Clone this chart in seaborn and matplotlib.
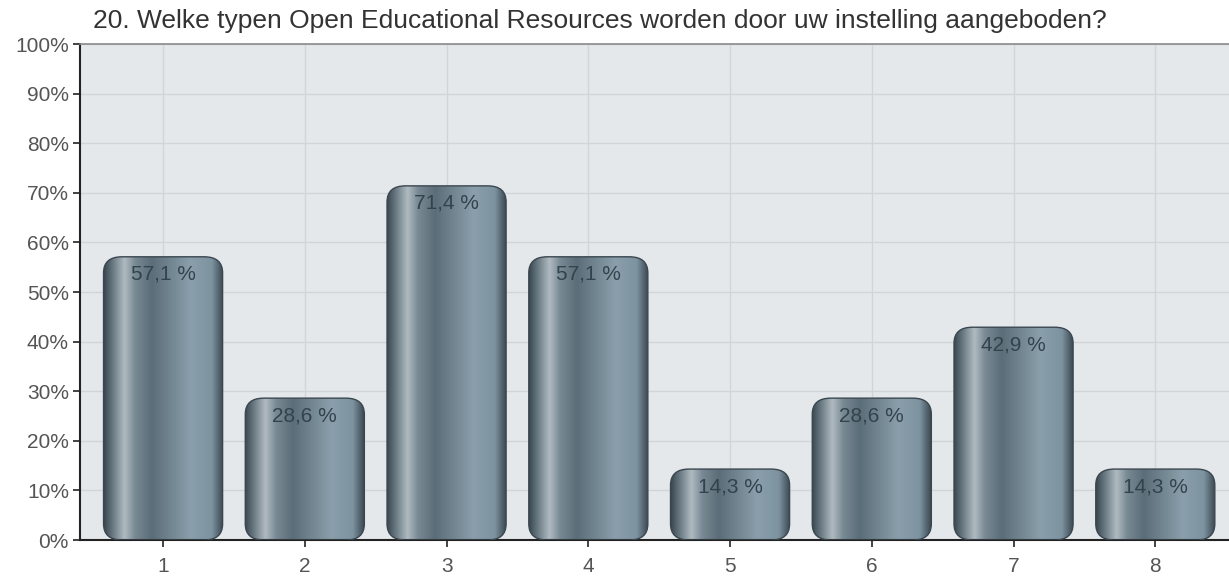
import numpy as np
import pandas as pd
import seaborn as sns
import matplotlib.pyplot as plt
from matplotlib.patches import FancyBboxPatch
from matplotlib.colors import LinearSegmentedColormap

# values
categories = ["1", "2", "3", "4", "5", "6", "7", "8"]
percentages = [57.1, 28.6, 71.4, 57.1, 14.3, 28.6, 42.9, 14.3]
labels = ["57,1 %", "28,6 %", "71,4 %", "57,1 %", "14,3 %", "28,6 %", "42,9 %", "14,3 %"]
title = "20. Welke typen Open Educational Resources worden door uw instelling aangeboden?"

df = pd.DataFrame({"cat": categories, "pct": percentages})

sns.set_theme(style="whitegrid")
plt.rcParams['font.family'] = ['Liberation Sans', 'DejaVu Sans']

fig = plt.figure(figsize=(12.29, 5.76), dpi=100)
ax = fig.add_axes([0.0651, 0.0625, 0.9349, 0.8611])
ax.set_facecolor("#e5e8eb")

sns.barplot(data=df, x="cat", y="pct", ax=ax, width=0.84, color="#6f8592", zorder=2)

# metallic look: horizontal gradient clipped to rounded boxes
metal = LinearSegmentedColormap.from_list("metal", [
    (0.0, "#3a4750"), (0.06, "#61717a"), (0.17, "#b0bbc1"), (0.26, "#788994"),
    (0.40, "#5b6d78"), (0.72, "#8a9fab"), (0.90, "#7d93a0"), (1.0, "#37444d")])
grad = np.linspace(0, 1, 256).reshape(1, -1)

for p, lab in zip(list(ax.patches), labels):
    x0, w, h = p.get_x(), p.get_width(), p.get_height()
    p.set_visible(False)
    box = FancyBboxPatch((x0, 0), w, h,
                         boxstyle="round,pad=0,rounding_size=0.13",
                         mutation_aspect=25, facecolor="none",
                         edgecolor="#3b4750", linewidth=1.0, zorder=3)
    ax.add_patch(box)
    im = ax.imshow(grad, cmap=metal, extent=(x0, x0 + w, 0, h),
                   aspect="auto", zorder=2.5, interpolation="bicubic")
    im.set_clip_path(box)
    ax.text(x0 + w / 2, h - 1.6, lab, ha="center", va="top",
            fontsize=15, color="#33434e", zorder=4)

ax.set_xlim(0.414 - 1, 8.52 - 1)
ax.set_ylim(0, 100)
ax.set_yticks(np.arange(0, 101, 10))
ax.set_yticklabels([f"{v}%" for v in range(0, 101, 10)])
ax.set_xlabel("")
ax.set_ylabel("")

ax.grid(True, color="#d2d5d8", linewidth=1.0, zorder=0)
ax.set_axisbelow(True)
ax.spines["right"].set_visible(False)
ax.spines["top"].set_color("#8a8a8a")
ax.spines["top"].set_linewidth(1.2)
ax.spines["left"].set_color("#222222")
ax.spines["left"].set_linewidth(1.5)
ax.spines["bottom"].set_color("#222222")
ax.spines["bottom"].set_linewidth(1.5)

ax.tick_params(axis="both", which="both", length=5, width=1.2, color="#222222",
               labelsize=15, labelcolor="#555555", direction="out")
ax.tick_params(axis="x", pad=7)
ax.tick_params(axis="y", pad=3)
ax.xaxis.set_ticks_position("bottom")
ax.yaxis.set_ticks_position("left")

fig.text(0.0757, 0.963, title, fontsize=19, color="#333333", ha="left", va="center")

fig.savefig("out.png", dpi=100)
